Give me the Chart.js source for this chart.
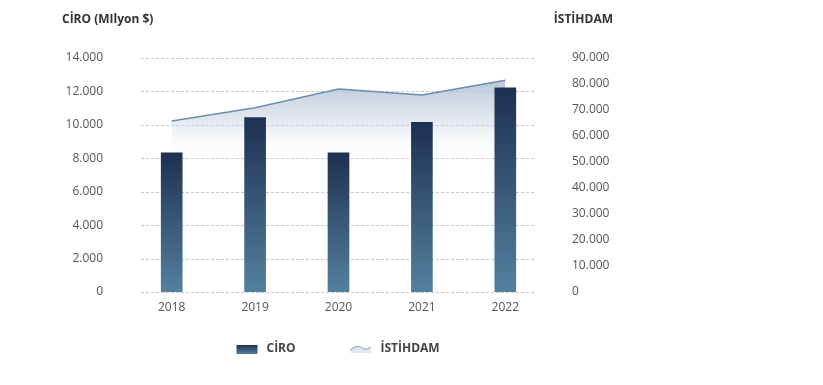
<!DOCTYPE html>
<html>
<head>
<meta charset="utf-8">
<script src="https://cdn.jsdelivr.net/npm/chart.js@4/dist/chart.umd.min.js"></script>
<style>
  html,body{margin:0;padding:0;background:#fff;}
  #wrap{width:823px;height:385px;position:relative;}
</style>
</head>
<body>
<div id="wrap"><canvas id="chart"></canvas></div>
<script>
// data
const years=['2018','2019','2020','2021','2022']
const ciro=[8330,10430,8330,10150,12220]
const istihdam=[65800,70900,78100,75800,81400]
const ciroTicks=[0,2000,4000,6000,8000,10000,12000,14000]
const istihdamTicks=[0,10000,20000,30000,40000,50000,60000,70000,80000,90000]

const FONT='"Open Sans", "Noto Sans", sans-serif'
const fmt=v=>String(v).replace(/\B(?=(\d{3})+(?!\d))/g,'.')

function barGrad(c){
  const chart=c.chart
  if(!chart.chartArea) return '#2c4668'
  const y=chart.scales.y
  const top=y.getPixelForValue(ciro[c.dataIndex])
  const bot=y.getPixelForValue(0)
  const g=chart.ctx.createLinearGradient(0,top,0,bot)
  g.addColorStop(0,'#1d3051')
  g.addColorStop(1,'#54809f')
  return g
}
function areaGrad(c){
  const chart=c.chart
  const a=chart.chartArea
  if(!a) return 'rgba(200,210,222,0.5)'
  const g=chart.ctx.createLinearGradient(0,a.top+20,0,a.top+105)
  g.addColorStop(0,'rgba(170,186,208,0.85)')
  g.addColorStop(0.5,'rgba(205,214,228,0.55)')
  g.addColorStop(1,'rgba(255,255,255,0)')
  return g
}

//dashed grid, only over the inner part
const gridPlugin={
  id:'dashGrid',
  beforeDatasetsDraw(chart){
    const ctx=chart.ctx, a=chart.chartArea, y=chart.scales.y
    ctx.save()
    ctx.strokeStyle='#c9c9c9'
    ctx.lineWidth=1
    ctx.setLineDash([3,2])
    ciroTicks.forEach(t=>{
      const py=Math.round(y.getPixelForValue(t))+0.5
      ctx.beginPath()
      ctx.moveTo(a.left+11,py)
      ctx.lineTo(a.right-12,py)
      ctx.stroke()
    })
    ctx.restore()
  }
}

//axis titles + legend
const extrasPlugin={
  id:'extras',
  afterDraw(chart){
    const ctx=chart.ctx, a=chart.chartArea
    ctx.save()
    ctx.font='bold 12px '+FONT
    ctx.fillStyle='#333'
    ctx.textBaseline='middle'
    ctx.textAlign='left'
    ctx.fillText('CİRO (MIlyon $)',62,20)
    ctx.textAlign='right'
    ctx.fillText('İSTİHDAM',613,20)

    // legend
    const cx=(a.left+a.right)/2
    const ly=349
    let x=cx-102
    const g=ctx.createLinearGradient(0,ly-4,0,ly+5)
    g.addColorStop(0,'#1d3051'); g.addColorStop(1,'#54809f')
    ctx.fillStyle=g
    ctx.fillRect(x,ly-4,21,9)
    ctx.fillStyle='#444'
    ctx.textAlign='left'
    ctx.fillText('CİRO',x+30,ly)

    x=cx+12
    ctx.beginPath()
    ctx.moveTo(x,ly+1)
    ctx.bezierCurveTo(x+5,ly-4,x+9,ly-3,x+12,ly-1)
    ctx.bezierCurveTo(x+15,ly+1,x+18,ly,x+20,ly-2)
    ctx.lineTo(x+20,ly+4)
    ctx.lineTo(x,ly+4)
    ctx.closePath()
    ctx.fillStyle='rgba(205,216,229,0.6)'
    ctx.fill()
    ctx.beginPath()
    ctx.moveTo(x,ly+1)
    ctx.bezierCurveTo(x+5,ly-4,x+9,ly-3,x+12,ly-1)
    ctx.bezierCurveTo(x+15,ly+1,x+18,ly,x+20,ly-2)
    ctx.strokeStyle='#9ab3ca'
    ctx.lineWidth=1.3
    ctx.stroke()
    ctx.fillStyle='#444'
    ctx.fillText('İSTİHDAM',x+30,ly)
    ctx.restore()
  }
}

const chart=document.querySelector('#chart').getContext('2d')

new Chart(chart,{
  data:{
    labels:years,
    datasets:[
      {
        type:'bar',
        label:'CİRO',
        data:ciro,
        yAxisID:'y',
        backgroundColor:barGrad,
        barThickness:21,
        order:1
      },
      {
        type:'line',
        label:'İSTİHDAM',
        data:istihdam,
        yAxisID:'y1',
        borderColor:'#6b8dac',
        borderWidth:1.5,
        pointRadius:0,
        tension:0,
        fill:'origin',
        backgroundColor:areaGrad,
        order:2
      }
    ]
  },
  options:{
    responsive:true,
    maintainAspectRatio:false,
    animation:false,
    layout:{padding:{top:58,bottom:0,left:0,right:0}},
    plugins:{legend:{display:false},tooltip:{enabled:false}},
    scales:{
      x:{
        grid:{display:false,drawTicks:false},
        border:{display:false},
        ticks:{color:'#555',font:{family:FONT,size:12},padding:8},
        afterFit(s){s.height=93}
      },
      y:{
        position:'left',
        min:0,max:14000,
        grid:{display:false,drawTicks:false},
        border:{display:false},
        afterBuildTicks(s){s.ticks=ciroTicks.map(v=>({value:v}))},
        ticks:{color:'#555',font:{family:FONT,size:12},padding:27,callback:fmt},
        afterFit(s){s.width=130}
      },
      y1:{
        position:'right',
        min:0,max:90000,
        grid:{display:false,drawTicks:false},
        border:{display:false},
        afterBuildTicks(s){s.ticks=istihdamTicks.map(v=>({value:v}))},
        ticks:{color:'#555',font:{family:FONT,size:12},padding:25,callback:fmt},
        afterFit(s){s.width=276}
      }
    }
  },
  plugins:[gridPlugin,extrasPlugin]
})
</script>
</body>
</html>
